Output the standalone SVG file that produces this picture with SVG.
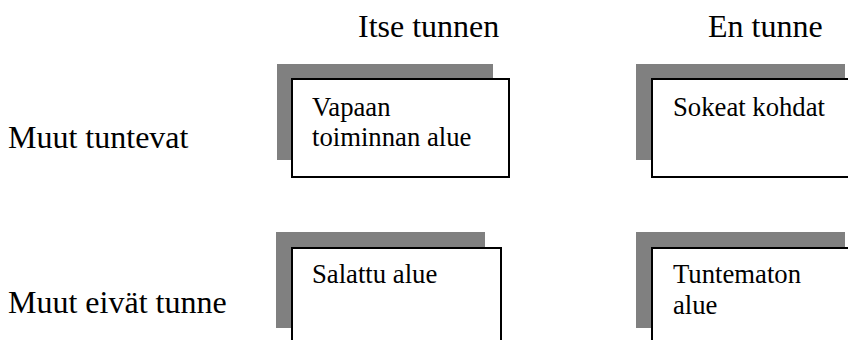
<svg xmlns="http://www.w3.org/2000/svg" width="848" height="340" viewBox="0 0 848 340">
<defs>
<style>
.sh{fill:#808080}
.bx{fill:#fff;stroke:#000;stroke-width:2}
</style>
</defs>
<rect width="848" height="340" fill="#fff"/>
<g id="headers">
<text font-size="32" font-family="Liberation Serif" x="358" y="37">Itse tunnen</text>
<text font-size="32" font-family="Liberation Serif" x="708" y="37">En tunne</text>
</g>
<g id="rows">
<text font-size="32" font-family="Liberation Serif" x="8" y="148">Muut tuntevat</text>
<text font-size="32" font-family="Liberation Serif" x="8" y="313">Muut eivät tunne</text>
</g>
<g id="box-vapaa">
<rect class="sh" x="277" y="64" width="216" height="96"/>
<rect class="bx" x="292" y="79" width="217" height="98"/>
<text font-size="26.7" font-family="Liberation Serif" x="312" y="116">Vapaan</text>
<text font-size="26.7" font-family="Liberation Serif" x="312" y="146">toiminnan alue</text>
</g>
<g id="box-sokeat">
<rect class="sh" x="636" y="64" width="209" height="96"/>
<rect class="bx" x="652" y="79" width="210" height="98"/>
<text font-size="26.7" font-family="Liberation Serif" x="673" y="116">Sokeat kohdat</text>
</g>
<g id="box-salattu">
<rect class="sh" x="276" y="232" width="209" height="96"/>
<rect class="bx" x="292" y="248" width="209" height="110"/>
<text font-size="26.7" font-family="Liberation Serif" x="312" y="283">Salattu alue</text>
</g>
<g id="box-tuntematon">
<rect class="sh" x="636" y="232" width="209" height="96"/>
<rect class="bx" x="652" y="248" width="210" height="110"/>
<text font-size="26.7" font-family="Liberation Serif" x="673" y="283">Tuntematon</text>
<text font-size="26.7" font-family="Liberation Serif" x="673" y="314">alue</text>
</g>
<g id="connectors"></g>
</svg>
